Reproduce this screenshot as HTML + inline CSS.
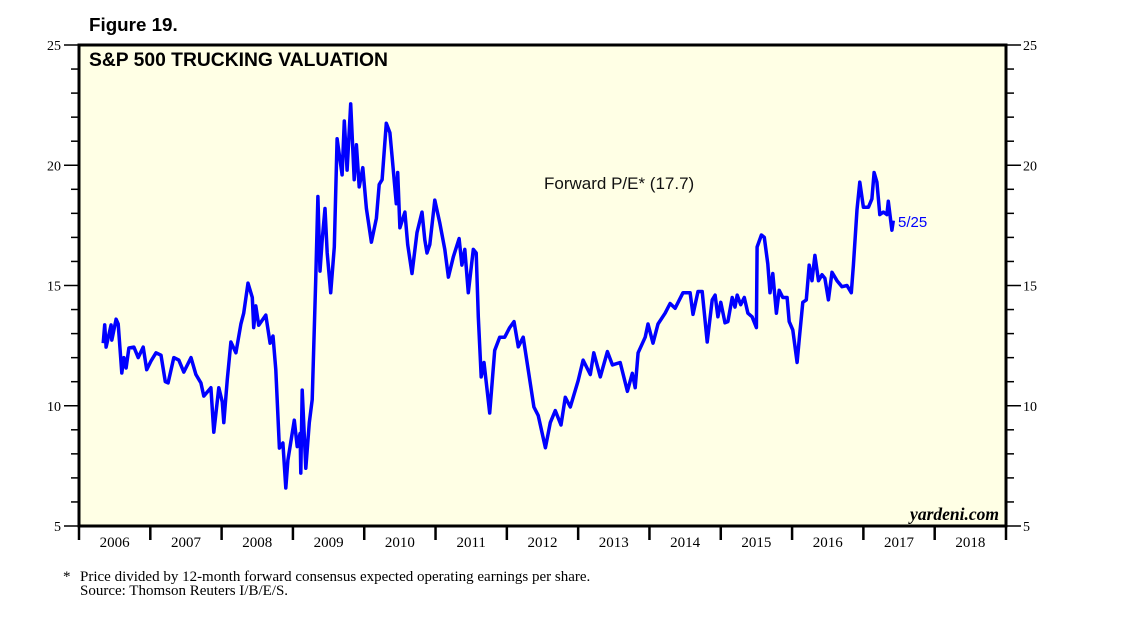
<!DOCTYPE html>
<html><head><meta charset="utf-8"><style>
body{margin:0;background:#fff;}
svg{display:block;font-family:"Liberation Sans",sans-serif;}
</style></head><body>
<svg id="chart" width="1138" height="621">
<text x="89" y="31" font-size="18.8" font-weight="bold">Figure 19.</text>
<rect x="79" y="45" width="927" height="481" fill="#FFFFE5"/>
<g id="axes"></g>
<polyline id="series" fill="none" stroke="#0000FF" stroke-width="3.5" stroke-linejoin="round"/>
<rect x="79" y="45" width="927" height="481" fill="none" stroke="#000" stroke-width="3"/>
<text x="89" y="66" font-size="19.3" font-weight="bold">S&amp;P 500 TRUCKING VALUATION</text>
<text x="544" y="189" font-size="17" fill="#111">Forward P/E* (17.7)</text>
<text x="898" y="227" font-size="15" fill="#0000FF">5/25</text>
<text x="999" y="520" font-size="17.5" font-style="italic" font-weight="bold" text-anchor="end" font-family="Liberation Serif,serif">yardeni.com</text>
<text x="63" y="581" font-size="15" font-family="Liberation Serif,serif">*</text>
<text x="80" y="581" font-size="15" font-family="Liberation Serif,serif">Price divided by 12-month forward consensus expected operating earnings per share.</text>
<text x="80" y="595" font-size="15" font-family="Liberation Serif,serif">Source: Thomson Reuters I/B/E/S.</text>
</svg>
<script>
const dates=[2006.34,2006.36,2006.38,2006.45,2006.46,2006.52,2006.55,2006.60,2006.63,2006.66,2006.70,2006.77,2006.83,2006.90,2006.95,2007.01,2007.08,2007.15,2007.21,2007.25,2007.33,2007.40,2007.47,2007.57,2007.64,2007.71,2007.75,2007.85,2007.89,2007.96,2008.01,2008.03,2008.08,2008.13,2008.20,2008.27,2008.31,2008.37,2008.43,2008.45,2008.48,2008.52,2008.62,2008.68,2008.72,2008.76,2008.81,2008.86,2008.90,2008.93,2009.02,2009.06,2009.10,2009.11,2009.13,2009.18,2009.23,2009.27,2009.32,2009.35,2009.38,2009.41,2009.45,2009.48,2009.53,2009.58,2009.62,2009.69,2009.72,2009.76,2009.81,2009.86,2009.89,2009.93,2009.98,2010.03,2010.10,2010.17,2010.21,2010.25,2010.31,2010.36,2010.39,2010.45,2010.47,2010.50,2010.57,2010.61,2010.67,2010.74,2010.81,2010.85,2010.88,2010.92,2010.99,2011.06,2011.13,2011.18,2011.25,2011.33,2011.37,2011.41,2011.46,2011.53,2011.57,2011.60,2011.64,2011.68,2011.76,2011.83,2011.90,2011.97,2012.04,2012.10,2012.16,2012.23,2012.30,2012.38,2012.44,2012.54,2012.61,2012.68,2012.76,2012.82,2012.89,2013.00,2013.07,2013.17,2013.22,2013.31,2013.41,2013.48,2013.59,2013.69,2013.76,2013.80,2013.84,2013.94,2013.98,2014.05,2014.12,2014.22,2014.29,2014.36,2014.47,2014.57,2014.61,2014.68,2014.74,2014.81,2014.88,2014.92,2014.96,2015.00,2015.06,2015.10,2015.16,2015.20,2015.23,2015.28,2015.33,2015.38,2015.44,2015.50,2015.51,2015.57,2015.61,2015.66,2015.69,2015.73,2015.78,2015.82,2015.87,2015.93,2015.96,2016.01,2016.07,2016.10,2016.15,2016.20,2016.24,2016.28,2016.32,2016.37,2016.42,2016.46,2016.51,2016.56,2016.63,2016.70,2016.77,2016.83,2016.86,2016.91,2016.95,2017.00,2017.07,2017.12,2017.15,2017.19,2017.23,2017.28,2017.33,2017.35,2017.40,2017.42];
const peValues=[12.6,13.36,12.44,13.36,12.73,13.6,13.4,11.36,12.0,11.57,12.4,12.44,12.0,12.44,11.5,11.86,12.2,12.1,11.0,10.95,12.0,11.9,11.4,12.0,11.3,10.95,10.4,10.75,8.9,10.75,10.15,9.3,11.1,12.65,12.2,13.4,13.85,15.1,14.5,13.25,14.15,13.35,13.77,12.6,12.9,11.5,8.24,8.45,6.58,7.74,9.4,8.3,8.85,7.2,10.65,7.4,9.3,10.25,15.2,18.7,15.6,16.9,18.2,16.35,14.7,16.6,21.1,19.6,21.84,19.8,22.55,19.4,20.85,19.1,19.9,18.2,16.8,17.8,19.2,19.4,21.75,21.35,20.4,18.4,19.7,17.4,18.05,16.7,15.5,17.2,18.05,16.9,16.35,16.7,18.55,17.6,16.5,15.35,16.2,16.95,15.85,16.5,14.7,16.5,16.35,13.7,11.2,11.8,9.7,12.3,12.85,12.85,13.25,13.5,12.45,12.85,11.5,9.95,9.6,8.25,9.3,9.8,9.2,10.35,9.95,11.05,11.9,11.3,12.2,11.2,12.25,11.7,11.8,10.6,11.35,10.75,12.2,12.85,13.4,12.6,13.4,13.85,14.25,14.05,14.7,14.7,13.8,14.75,14.75,12.65,14.4,14.6,13.7,14.3,13.45,13.5,14.5,14.1,14.6,14.2,14.5,13.85,13.7,13.25,16.6,17.1,17.0,15.9,14.7,15.5,13.85,14.8,14.5,14.5,13.5,13.15,11.8,12.75,14.3,14.4,15.85,15.2,16.25,15.2,15.45,15.3,14.4,15.55,15.2,14.95,15.0,14.7,15.85,18.15,19.3,18.25,18.25,18.6,19.7,19.3,17.95,18.05,17.95,18.5,17.3,17.7];
const yTicks=[5,10,15,20,25];
const yearLabels=[2006,2007,2008,2009,2010,2011,2012,2013,2014,2015,2016,2017,2018];
const X0=79,X1=1006,Y0=526,Y1=45,T0=2006,T1=2019,V0=5,V1=25;
function xs(t){return X0+(t-T0)/(T1-T0)*(X1-X0);}
function ys(v){return Y0-(v-V0)/(V1-V0)*(Y0-Y1);}
const NS="http://www.w3.org/2000/svg";
const ax=document.getElementById('axes');
function mk(tag,attrs){const e=document.createElementNS(NS,tag);for(const k in attrs)e.setAttribute(k,attrs[k]);ax.appendChild(e);return e;}
for(let v=V0;v<=V1;v++){
  const major=v%5===0;const y=ys(v);
  const l=mk('line',{x1:major?64:71,x2:X0,y1:y,y2:y,stroke:'#000','stroke-width':1.5});
  
  
  const r=mk('line',{x1:X1,x2:major?1021:1014,y1:y,y2:y,stroke:'#000','stroke-width':1.5});
  
  
}
yTicks.forEach(v=>{
  const a=mk('text',{x:61,y:ys(v)+5,'font-size':14,'text-anchor':'end','font-family':'Liberation Serif,serif'});
  a.textContent=v;
  
  
  const b=mk('text',{x:1023,y:ys(v)+5,'font-size':14,'font-family':'Liberation Serif,serif'});
  b.textContent=v;
  
  
});
for(let yr=T0;yr<=T1;yr++){
  const t=mk('line',{x1:xs(yr),x2:xs(yr),y1:Y0,y2:540,stroke:'#000','stroke-width':2.5});
  
  
}
yearLabels.forEach(yr=>{
  const t=mk('text',{x:xs(yr+0.5),y:547,'font-size':15,'text-anchor':'middle','font-family':'Liberation Serif,serif'});
  t.textContent=yr;
  
  
});
document.getElementById('series').setAttribute('points',dates.map((d,i)=>xs(d).toFixed(1)+','+ys(peValues[i]).toFixed(1)).join(' '));
</script>
</body></html>
